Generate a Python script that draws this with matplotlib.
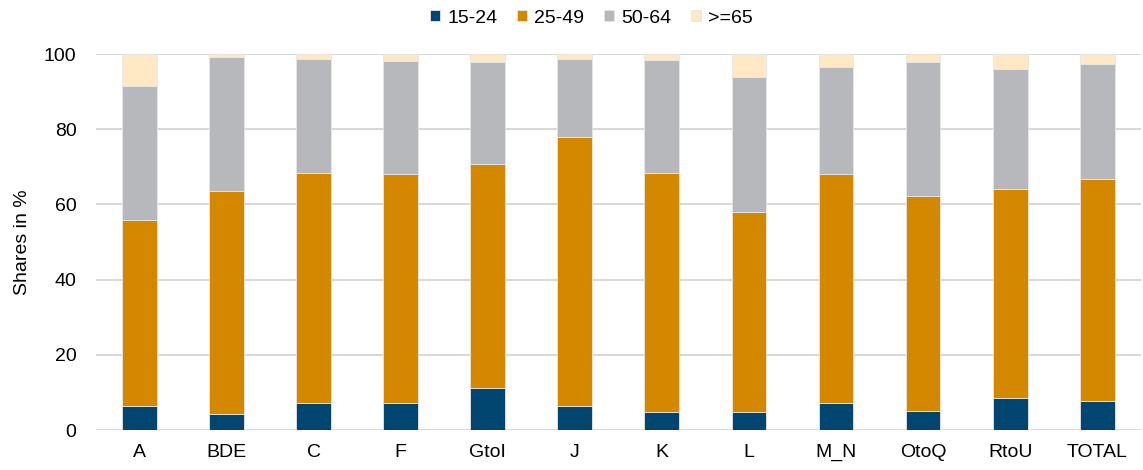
import matplotlib.pyplot as plt
import numpy as np

plt.rcParams['font.family'] = ['Liberation Sans', 'DejaVu Sans']

sectors = ['A', 'BDE', 'C', 'F', 'GtoI', 'J', 'K', 'L', 'M_N', 'OtoQ', 'RtoU', 'TOTAL']
age_groups = ['15-24', '25-49', '50-64', '>=65']

# shares in %
s_15_24 = [6.4, 4.2, 7.1, 7.3, 11.3, 6.5, 4.7, 4.7, 7.1, 5.0, 8.4, 7.6]
s_25_49 = [49.5, 59.5, 61.3, 60.9, 59.5, 71.5, 63.7, 53.4, 61.0, 57.3, 55.8, 59.2]
s_50_64 = [35.6, 35.4, 30.3, 29.9, 27.2, 20.8, 30.0, 35.9, 28.5, 35.6, 31.8, 30.6]
s_65 = [8.5, 0.9, 1.3, 1.9, 2.0, 1.2, 1.6, 6.0, 3.4, 2.1, 4.0, 2.6]

colors = ['#004670', '#D38800', '#B7B8BC', '#FFE8C4']
series = [s_15_24, s_25_49, s_50_64, s_65]

fig = plt.figure(figsize=(11.43, 4.7), dpi=100)
ax = fig.add_axes([0.084, 0.085, 0.914, 0.8])

x = np.arange(len(sectors))
bottom = np.zeros(len(sectors))
for vals, col, lab in zip(series, colors, age_groups):
    vals = np.array(vals)
    ax.bar(x, vals, 0.4, bottom=bottom, color=col, label=lab,
           edgecolor='#E6E6E6', linewidth=0.6, zorder=3)
    bottom = bottom + vals

ax.set_xlim(-0.5, len(sectors) - 0.5)
ax.set_ylim(0, 100)
ax.set_yticks([0, 20, 40, 60, 80, 100])
ax.yaxis.grid(True, color='#D9D9D9', linewidth=1.5, zorder=0)
ax.set_axisbelow(True)
for sp in ax.spines.values():
    sp.set_visible(False)
ax.tick_params(length=0, labelsize=14, colors='black')
ax.tick_params(axis='x', pad=10)
ax.tick_params(axis='y', pad=14)
ax.set_xticks(x)
ax.set_xticklabels(sectors)
ax.set_ylabel('Shares in %', fontsize=14, labelpad=9)

ax.legend(loc='upper center', bbox_to_anchor=(0.474, 1.165), ncol=4, frameon=False,
          fontsize=14, handlelength=0.55, handleheight=0.55, handletextpad=0.35,
          columnspacing=1.0)

fig.savefig('out.png', dpi=100)
